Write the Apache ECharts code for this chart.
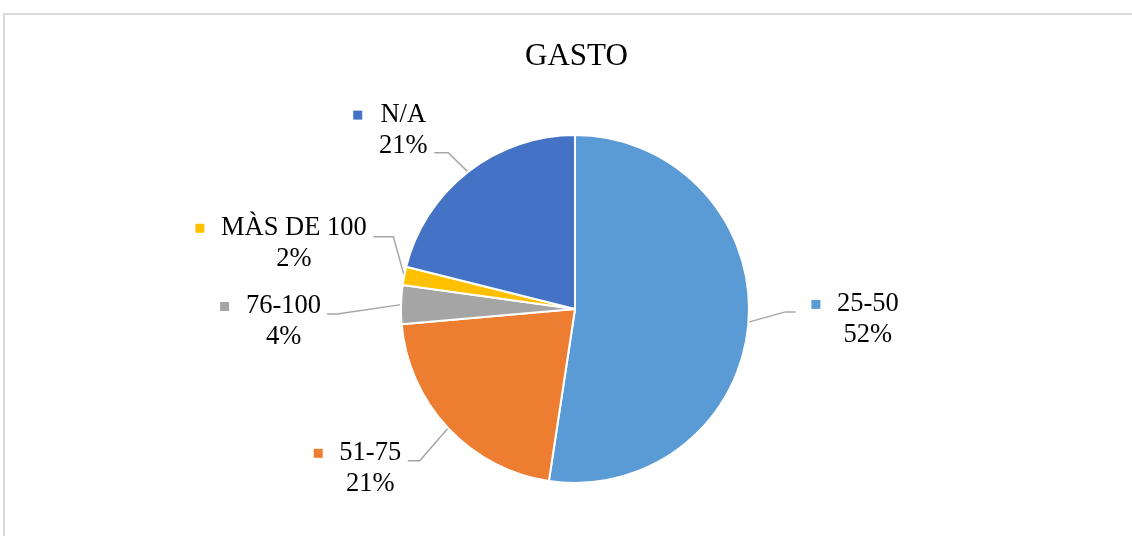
<!DOCTYPE html>
<html>
<head>
<meta charset="utf-8">
<style>
  html, body { margin: 0; padding: 0; background: #fff; }
  #chart { width: 1132px; height: 536px; }
</style>
<script src="https://cdn.jsdelivr.net/npm/echarts@6/dist/echarts.min.js"></script>
</head>
<body>
<div id="chart"></div>
<script>
// 类别
const categories = ['25-50', '51-75', '76-100', 'MÀS DE 100', 'N/A']
// 占比 (%)
const shares = [52.4, 21.2, 3.6, 1.7, 21.1]
// 颜色
const colors = ['#5B9BD5', '#ED7D31', '#A5A5A5', '#FFC000', '#4472C4']

// 引导线：[第一段, 第二段, 线端上下偏移, 标签相对线端偏移, 文字距离]
const guides = [
  [37, 10, -13, 8, 16],
  [39, 12, 6, 8, 6],
  [64, 10, 11, 8, 5],
  [11, 20, -37, 7, 6],
  [32, 14, 6, -22, 6]
]

const font = "'Times New Roman', 'Liberation Serif', serif"
const fontSize = 26.5

// 量文字宽度，让两行居中对齐
const ctx = document.createElement('canvas').getContext('2d')
ctx.font = fontSize + 'px ' + font
const measure = s => ctx.measureText(s).width

const pctText = shares.map(v => Math.round(v) + '%')

const rich = {
  gap: { width: 16 },
  sp: { width: 25 }
}
categories.forEach((name, i) => {
  const w = Math.ceil(Math.max(measure(name), measure(pctText[i]))) + 1
  const txt = { width: w, align: 'center', fontSize: fontSize, lineHeight: 31, fontFamily: font, color: '#000' }
  rich['m' + i] = { width: 9, height: 9, backgroundColor: colors[i], verticalAlign: 'middle' }
  rich['n' + i] = txt
  rich['p' + i] = txt
})

const chart = echarts.init(document.getElementById('chart'))
const option = {
  animation: false,
  graphic: [
    {
      type: 'rect',
      silent: true,
      z: -1,
      shape: { x: 4, y: 14, width: 1200, height: 600 },
      style: { fill: 'none', stroke: '#D9D9D9', lineWidth: 2 }
    }
  ],
  title: {
    text: 'GASTO',
    left: 520,
    top: 36,
    textStyle: {
      fontFamily: font,
      fontSize: 31,
      fontWeight: 'normal',
      color: '#000'
    }
  },
  series: [
    {
      type: 'pie',
      center: [575, 309],
      radius: 174,
      startAngle: 90,
      clockwise: true,
      avoidLabelOverlap: false,
      itemStyle: { borderColor: '#fff', borderWidth: 2 },
      emphasis: { disabled: true },
      label: {
        show: true,
        fontFamily: font,
        fontSize: fontSize,
        lineHeight: 31,
        color: '#000',
        formatter: p => {
          const i = p.dataIndex
          return '{m' + i + '| }{gap| }{n' + i + '|' + p.name + '}\n{sp| }{p' + i + '|' + pctText[i] + '}'
        },
        rich: rich
      },
      labelLine: {
        show: true,
        lineStyle: { color: '#A6A6A6', width: 1.5 }
      },
      labelLayout: params => {
        const g = guides[params.dataIndex]
        const pts = params.labelLinePoints
        const out = { dy: g[2] + g[3] }
        if (pts) {
          const lp = pts.map(p => [p[0], p[1]])
          lp[1][1] += g[2]
          lp[2][1] += g[2]
          out.labelLinePoints = lp
        }
        return out
      },
      data: categories.map((name, i) => ({
        name: name,
        value: shares[i],
        itemStyle: { color: colors[i] },
        label: { distanceToLabelLine: guides[i][4] },
        labelLine: { length: guides[i][0], length2: guides[i][1] }
      }))
    }
  ]
}
chart.setOption(option, true)
</script>
</body>
</html>
